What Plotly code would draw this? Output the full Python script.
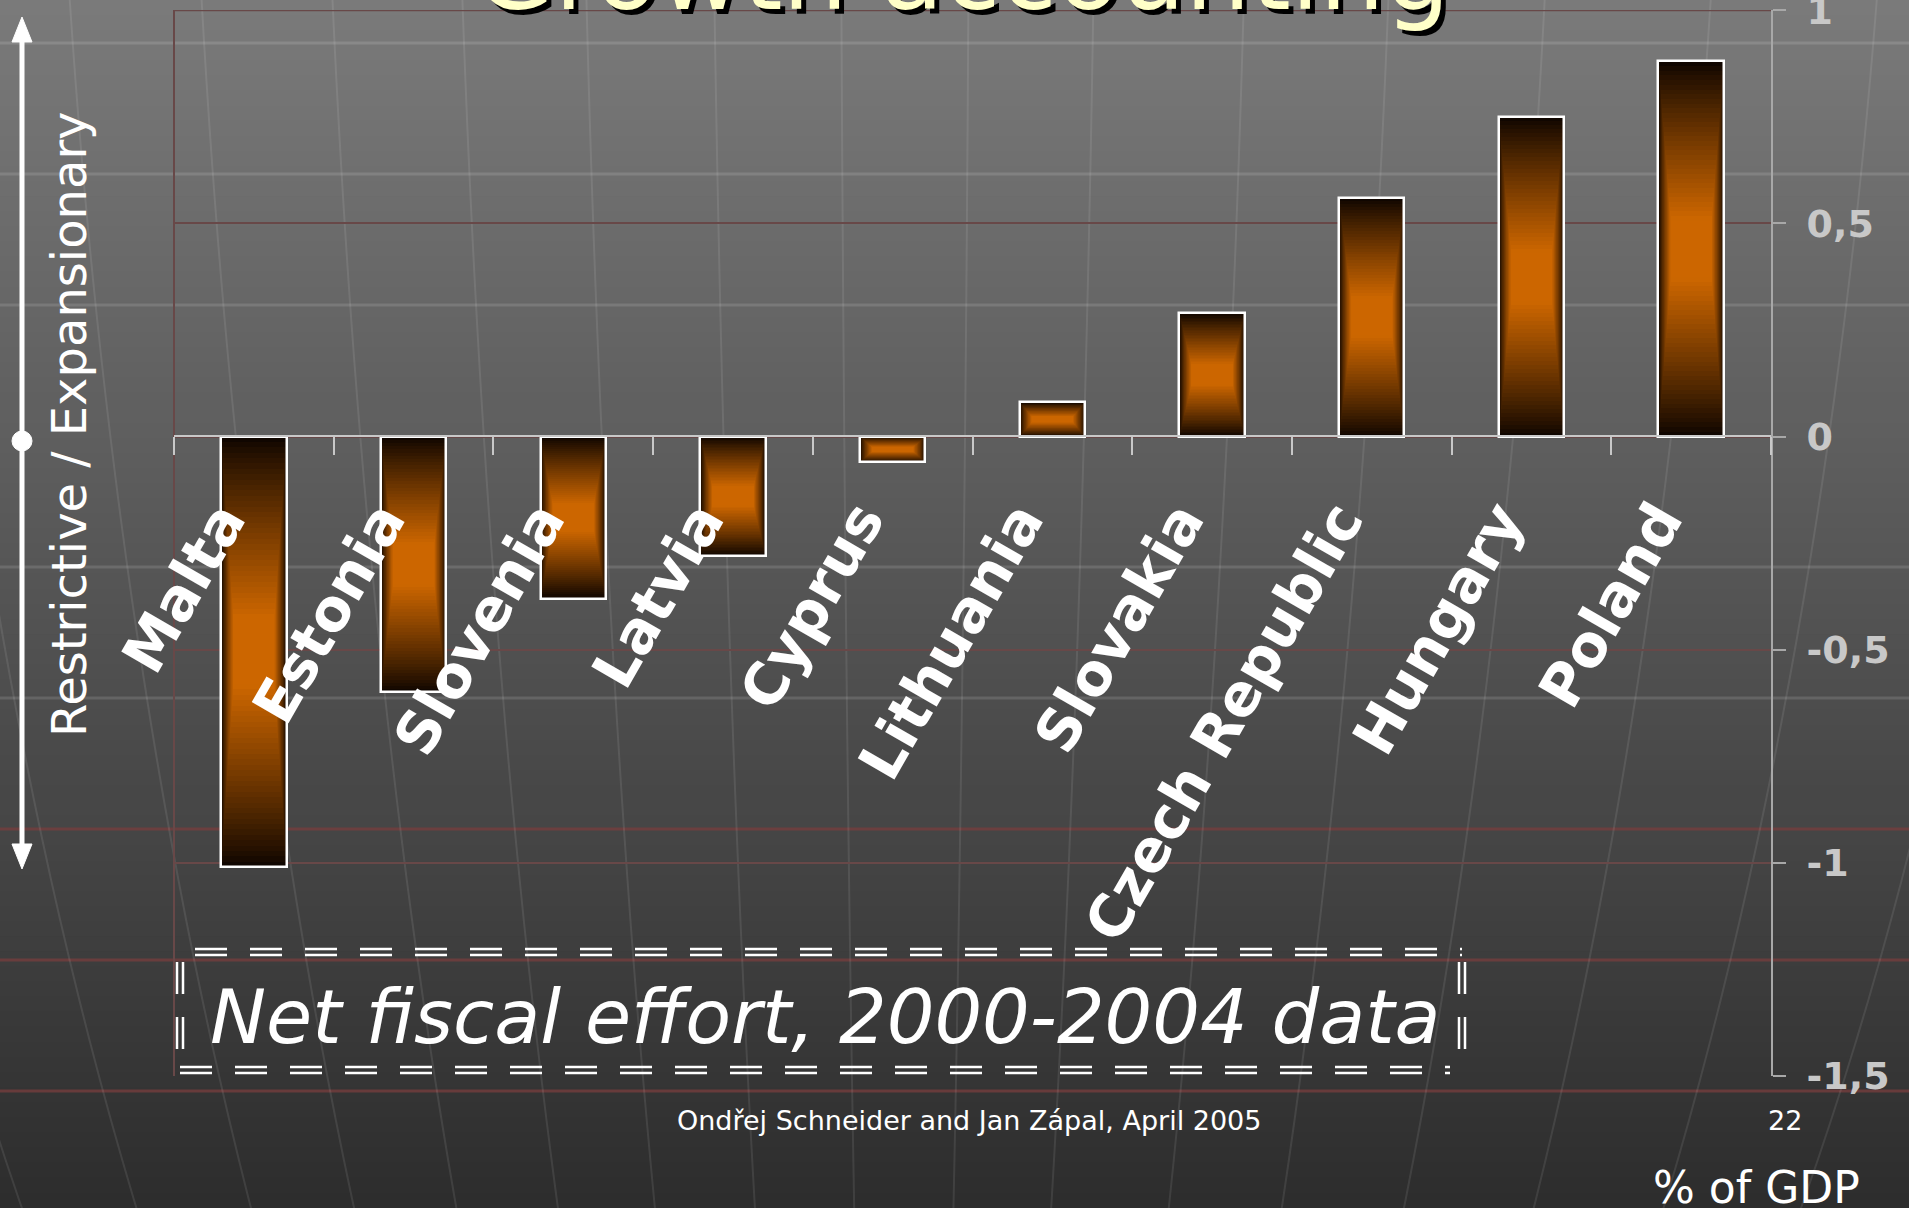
import math
import plotly.graph_objects as go

W, H = 1909, 1208

# ---------------- data ----------------
countries = ["Malta", "Estonia", "Slovenia", "Latvia", "Cyprus",
             "Lithuania", "Slovakia", "Czech Republic", "Hungary", "Poland"]
net_fiscal_effort = [-1.01, -0.60, -0.38, -0.28, -0.06, 0.08, 0.29, 0.56, 0.75, 0.88]

y_tick_values = [1, 0.5, 0, -0.5, -1, -1.5]
y_tick_labels = ["1", "0,5", "0", "-0,5", "-1", "-1,5"]

title_text = "Growth accounting"
chart_note = "Net fiscal effort, 2000-2004 data"
axis_note = "Restrictive / Expansionary"
unit_note = "% of GDP"
footer_text = "Ondřej Schneider and Jan Zápal, April 2005"
page_number = "22"


# ---------------- helpers ----------------
def px(x):
    return x / W


def py(y):
    return 1 - y / H


def lerp(c1, c2, f):
    return "rgb(%d,%d,%d)" % tuple(round(a + (b - a) * f) for a, b in zip(c1, c2))


fig = go.Figure()

# bars drawn as nested layers to imitate the gradient fill of the original
BAR_W = 0.41
N_LAYERS = 40
DARK = (16, 6, 0)
ORANGE = (204, 102, 0)
for i in range(N_LAYERS):
    t = i / N_LAYERS
    f = min(1.0, (i / (N_LAYERS - 1)) / 0.85) ** 0.9
    fig.add_trace(go.Bar(
        x=countries,
        y=[v * (1 - t) for v in net_fiscal_effort],
        base=[v * t / 2 for v in net_fiscal_effort],
        width=BAR_W * (1 - 0.45 * t),
        marker=dict(color=lerp(DARK, ORANGE, f), line=dict(width=0)),
        hoverinfo="skip", showlegend=False,
    ))
# white outline on top
fig.add_trace(go.Bar(
    x=countries, y=net_fiscal_effort, width=BAR_W,
    marker=dict(color="rgba(0,0,0,0)", line=dict(color="white", width=2.5)),
    hoverinfo="skip", showlegend=False,
))

shapes = []
# background vertical gradient
N_BANDS = 80
top_c, bot_c = (122, 122, 122), (45, 45, 45)
for k in range(N_BANDS):
    y0 = k * H / N_BANDS
    y1 = (k + 1) * H / N_BANDS + 1
    shapes.append(dict(type="rect", xref="paper", yref="paper", layer="below",
                       x0=0, x1=1, y0=py(y1), y1=py(y0),
                       fillcolor=lerp(top_c, bot_c, (k + 0.5) / N_BANDS),
                       line=dict(width=0)))
# background decorative horizontal lines
for yl in [43, 174, 305, 567, 698]:
    shapes.append(dict(type="line", xref="paper", yref="paper", layer="below",
                       x0=0, x1=1, y0=py(yl), y1=py(yl),
                       line=dict(color="rgba(255,255,255,0.13)", width=3)))
for yl in [829, 960, 1091]:
    shapes.append(dict(type="line", xref="paper", yref="paper", layer="below",
                       x0=0, x1=1, y0=py(yl), y1=py(yl),
                       line=dict(color="rgba(120,62,62,0.75)", width=3)))
# background decorative meridian curves
for D in [-1150, -1000, -850, -715, -581, -448, -321, -190, -60, 70, 198, 352,
          500, 660, 830, 1000, 1180]:
    pts = []
    for yy in range(0, H + 41, 40):
        xx = 900 + D * math.sqrt(max(0.0, 1 - ((yy + 600) / 2800) ** 2))
        pts.append("%.5f,%.5f" % (px(xx), py(yy)))
    shapes.append(dict(type="path", xref="paper", yref="paper", layer="below",
                       path="M" + " L".join(pts),
                       line=dict(color="rgba(255,255,255,0.09)", width=2)))
# plot border: left edge and top grid line at the range maximum
shapes.append(dict(type="line", xref="paper", yref="paper", layer="below",
                   x0=px(174), x1=px(174), y0=py(10), y1=py(1076),
                   line=dict(color="rgb(104,72,72)", width=2)))
shapes.append(dict(type="line", xref="paper", yref="y", layer="below",
                   x0=px(174), x1=px(1771), y0=y_tick_values[0], y1=y_tick_values[0],
                   line=dict(color="rgb(104,72,72)", width=2)))
# left double-headed arrow with centre dot
shapes.append(dict(type="line", xref="paper", yref="paper",
                   x0=px(22), x1=px(22), y0=py(36), y1=py(850),
                   line=dict(color="white", width=5)))
shapes.append(dict(type="path", xref="paper", yref="paper",
                   path="M%f,%f L%f,%f L%f,%f Z" % (px(22), py(17), px(12), py(42), px(32), py(42)),
                   fillcolor="white", line=dict(color="white", width=1)))
shapes.append(dict(type="path", xref="paper", yref="paper",
                   path="M%f,%f L%f,%f L%f,%f Z" % (px(22), py(869), px(12), py(844), px(32), py(844)),
                   fillcolor="white", line=dict(color="white", width=1)))
shapes.append(dict(type="circle", xref="paper", yref="paper",
                   x0=px(12), x1=px(32), y0=py(451), y1=py(431),
                   fillcolor="white", line=dict(color="white", width=1)))
# double dashed frame around the note
DASH = dict(color="white", width=2.5, dash="32px,23px")
for yl, xa, xb in [(949, 195, 1462), (955, 195, 1462), (1067, 180, 1450), (1073, 180, 1450)]:
    shapes.append(dict(type="line", xref="paper", yref="paper",
                       x0=px(xa), x1=px(xb), y0=py(yl), y1=py(yl), line=DASH))
for xl in [177, 183, 1459, 1465]:
    shapes.append(dict(type="line", xref="paper", yref="paper",
                       x0=px(xl), x1=px(xl), y0=py(962), y1=py(1070), line=DASH))

annotations = [
    dict(text=title_text, x=px(962), y=py(35), xref="paper", yref="paper",
         xanchor="center", yanchor="bottom", showarrow=False, xshift=5, yshift=-5,
         font=dict(family="DejaVu Sans", size=103, color="black")),
    dict(text=title_text, x=px(962), y=py(35), xref="paper", yref="paper",
         xanchor="center", yanchor="bottom", showarrow=False,
         font=dict(family="DejaVu Sans", size=103, color="#ffffc8")),
    dict(text=chart_note, x=px(825), y=py(1017), xref="paper", yref="paper",
         xanchor="center", yanchor="middle", showarrow=False,
         font=dict(family="DejaVu Sans", size=75, color="white", style="italic")),
    dict(text=axis_note, x=px(69), y=py(424), xref="paper", yref="paper",
         xanchor="center", yanchor="middle", showarrow=False, textangle=-90,
         font=dict(family="DejaVu Sans", size=48, color="white")),
    dict(text=footer_text, x=px(969), y=py(1120), xref="paper", yref="paper",
         xanchor="center", yanchor="middle", showarrow=False,
         font=dict(family="DejaVu Sans", size=27, color="white")),
    dict(text=page_number, x=px(1785), y=py(1120), xref="paper", yref="paper",
         xanchor="center", yanchor="middle", showarrow=False,
         font=dict(family="DejaVu Sans", size=27, color="white")),
    dict(text=unit_note, x=px(1756), y=py(1187), xref="paper", yref="paper",
         xanchor="center", yanchor="middle", showarrow=False,
         font=dict(family="DejaVu Sans", size=44, color="white")),
]
# rotated category labels, placed under the zero line at each category
for c in countries:
    annotations.append(dict(
        text=c, x=c, y=0, xref="x", yref="y",
        xanchor="right", yanchor="top", showarrow=False, textangle=-60,
        xshift=8, yshift=-52,
        font=dict(family="DejaVu Sans", size=58, color="white", weight="bold")))

fig.update_layout(
    width=W, height=H,
    margin=dict(l=0, r=0, t=0, b=0, pad=0),
    paper_bgcolor="#555555", plot_bgcolor="rgba(0,0,0,0)",
    barmode="overlay", bargap=0, showlegend=False,
    xaxis=dict(
        domain=[px(174), px(1771)], anchor="free", position=py(436),
        type="category", range=[-0.5, 9.5],
        tickmode="linear", tick0=0, dtick=1, tickson="boundaries",
        ticks="outside", ticklen=18, tickwidth=2, tickcolor="#c8c8c8",
        showline=True, linecolor="#c8c8c8", linewidth=2, showticklabels=False,
        showgrid=False, zeroline=False,
        automargin=False, fixedrange=True,
    ),
    yaxis=dict(
        domain=[py(1076), py(10)], range=[-1.5, 1.0005], side="right", anchor="x",
        tickmode="array", tickvals=y_tick_values, ticktext=y_tick_labels,
        ticks="outside", ticklen=13, tickwidth=2, tickcolor="#a8a8a8",
        showline=True, linecolor="#a8a8a8", linewidth=2,
        showgrid=True, gridcolor="rgb(104,72,72)", gridwidth=2, zeroline=False,
        tickfont=dict(family="DejaVu Sans", size=38, color="#c8c8c8", weight="bold"),
        ticklabelstandoff=13, ticklabeloverflow="allow",
        automargin=False, fixedrange=True,
    ),
    shapes=shapes,
    annotations=annotations,
)

fig.write_html(
    "out.html",
    config={"displayModeBar": False},
    post_script="document.body.style.margin='0';document.body.style.background='#2d2d2d';",
)
